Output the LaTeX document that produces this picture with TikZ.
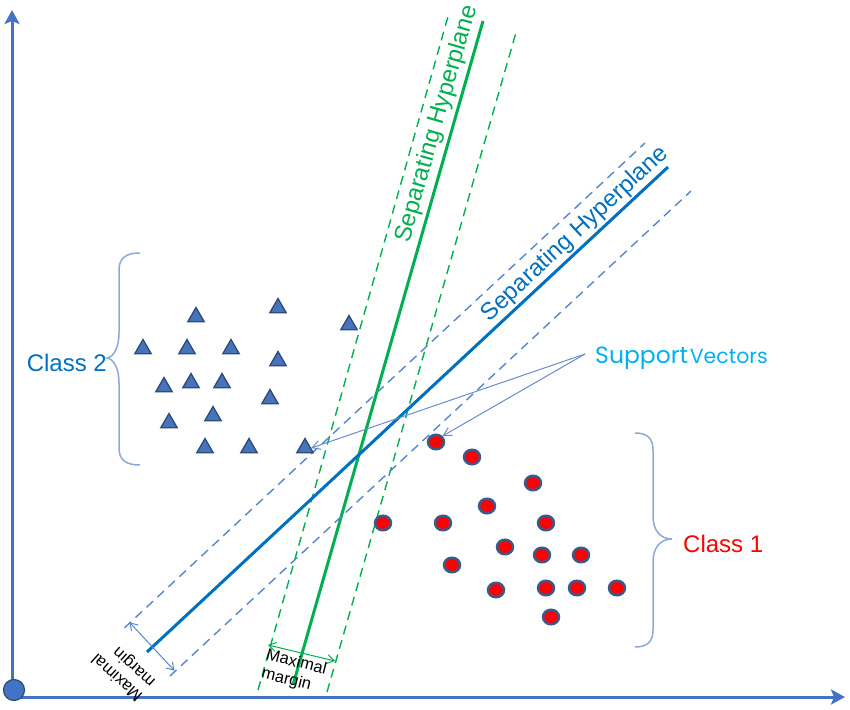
\documentclass[tikz,border=0pt]{standalone}
\usepackage{fontspec}
\setmainfont{Liberation Sans}
\newfontfamily\svfont{Poppins}
\usetikzlibrary{arrows.meta,shapes.geometric}
\definecolor{axisblue}{RGB}{68,114,196}
\definecolor{hypblue}{RGB}{0,112,192}
\definecolor{dashblue}{RGB}{86,135,205}
\definecolor{hypgreen}{RGB}{0,176,80}
\definecolor{trifill}{RGB}{70,115,185}
\definecolor{tridraw}{RGB}{45,75,120}
\definecolor{dotdraw}{RGB}{56,90,140}
\definecolor{bracecol}{RGB}{140,170,215}
\definecolor{svarrow}{RGB}{105,140,205}
\definecolor{svtext}{RGB}{0,176,240}
\begin{document}
\begin{tikzpicture}[x=1pt,y=-1pt,
  axis/.style={draw=axisblue, line width=3pt},
  hypsolid/.style={line width=3pt},
  hypdash/.style={line width=1.4pt, dash pattern=on 9pt off 6pt},
  tri/.style={regular polygon, regular polygon sides=3, minimum size=19pt, inner sep=0pt, fill=trifill, draw=tridraw, line width=1.3pt},
  dot/.style={ellipse, minimum width=16pt, minimum height=14.5pt, inner sep=0pt, fill=red, draw=dotdraw, line width=2.5pt},
  brace/.style={draw=bracecol, line width=1.5pt},
  sva/.style={draw=svarrow, line width=1pt, -{Straight Barb[length=8pt,width=9pt]}},
  marg/.style={line width=1pt, {Straight Barb[length=7pt,width=9pt]}-{Straight Barb[length=7pt,width=9pt]}},
  lbl/.style={inner sep=0pt}
]
\useasboundingbox (0,0) rectangle (850,709);

% axes
\coordinate (corner) at (12,697);
\coordinate (ytip) at (12,10);
\coordinate (xtip) at (845,697);
\draw[axis, -{Stealth[length=14pt,width=15pt,inset=3pt]}] (corner) -- (ytip);
\draw[axis, -{Stealth[length=14pt,width=15pt,inset=3pt]}] (14,697) -- (xtip);
\node[circle, minimum size=21pt, inner sep=0pt, fill=axisblue, draw=tridraw, line width=1.2pt] (origin) at (14,690) {};

% green hyperplane
\coordinate (gA) at (293,685); \coordinate (gB) at (483,21);
\coordinate (gL1) at (258,690); \coordinate (gL2) at (449,13);
\coordinate (gR1) at (327,692); \coordinate (gR2) at (517,29);
\draw[hypdash, draw=hypgreen] (gL1) -- (gL2);
\draw[hypdash, draw=hypgreen] (gR1) -- (gR2);
\draw[hypsolid, draw=hypgreen] (gA) -- (gB);

% blue hyperplane
\coordinate (bA) at (147,652); \coordinate (bB) at (668,167);
\coordinate (bU1) at (124.5,627.8); \coordinate (bU2) at (645,143);
\coordinate (bD1) at (170,676); \coordinate (bD2) at (691,191);
\draw[hypdash, draw=dashblue] (bU1) -- (bU2);
\draw[hypdash, draw=dashblue] (bD1) -- (bD2);
\draw[hypsolid, draw=hypblue] (bA) -- (bB);

% hyperplane labels
\node[lbl, text=hypgreen, rotate=74, font=\fontsize{24}{28}\selectfont] (glabel) at (437,124) {Separating Hyperplane};
\node[lbl, text=hypblue, rotate=42.9, font=\fontsize{24}{28}\selectfont] (blabel) at (575,234) {Separating Hyperplane};

% margins
\coordinate (bm1) at (129.5,622.3); \coordinate (bm2) at (174.5,670.7);
\draw[marg, draw=dashblue] (bm1) -- (bm2);
\node[lbl, rotate=138, align=left, font=\fontsize{16.5}{19}\selectfont] (bmt) at (124,670) {Maximal\\margin};
\coordinate (gm1) at (268,645); \coordinate (gm2) at (335,661);
\draw[marg, draw=hypgreen] (gm1) -- (gm2);
\node[lbl, rotate=-14, align=left, font=\fontsize{16.5}{19}\selectfont] (gmt) at (294,672) {Maximal\\margin};

% class 2 triangles
\foreach \n/\x/\y in {1/196/317, 2/278/308, 3/349/325, 4/143/349, 5/187/349, 6/231/349, 7/278/361, 8/164/387, 9/191/383, 10/222/383, 11/270/399, 12/169/423, 13/213/416, 14/205/448, 15/249/448, 16/305/448}
  \node[tri] (t\n) at (\x,\y) {};

% class 1 circles
\foreach \n/\x/\y in {1/436/442, 2/472/457, 3/533/483, 4/487/506, 5/383/523, 6/443/523, 7/546/523, 8/505/547, 9/542/555, 10/581/555, 11/452/565, 12/496/590, 13/546/588, 14/577/588, 15/617/588, 16/551/617}
  \node[dot] (c\n) at (\x,\y) {};

% braces
\draw[brace] (140,253) .. controls (126,253) and (119,258) .. (119,270) -- (119,333) .. controls (119,347) and (114,357) .. (107,358) .. controls (114,359) and (119,369) .. (119,383) -- (119,448) .. controls (119,460) and (126,465) .. (140,465);
\draw[brace] (635,433) .. controls (647,433) and (653,438) .. (653,450) -- (653,516) .. controls (653,530) and (660,539) .. (672,539) .. controls (660,539) and (653,548) .. (653,562) -- (653,630) .. controls (653,642) and (647,647) .. (635,647);

% class labels
\node[lbl, anchor=base east, text=hypblue, font=\fontsize{24}{28}\selectfont] (class2) at (107,371) {Class 2};
\node[lbl, anchor=base west, text=red, font=\fontsize{24}{28}\selectfont] (class1) at (683,552) {Class 1};

% support vectors
\node[lbl, anchor=base west, text=svtext] (sv) at (595,363) {{\svfont\fontsize{23.5}{28}\selectfont Support}\,{\svfont\fontsize{20.5}{25}\selectfont Vectors}};
\coordinate (svp) at (585,354);
\draw[sva] (svp) -- (t16.east);
\draw[sva] (svp) -- (c1.north east);
\end{tikzpicture}
\end{document}
